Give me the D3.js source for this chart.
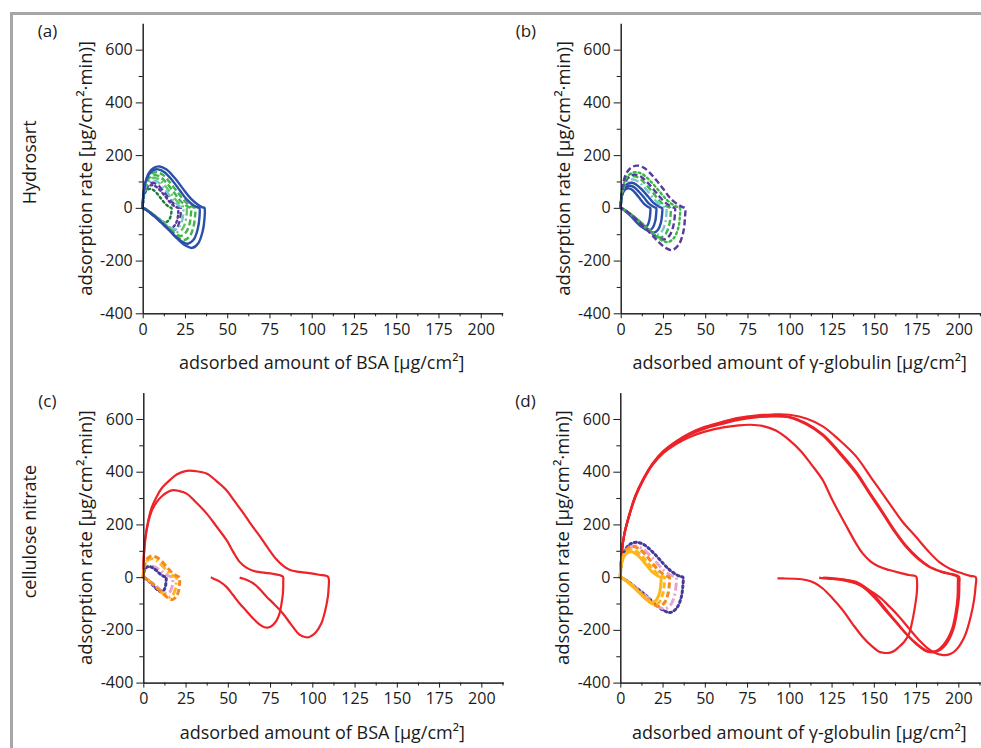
<!DOCTYPE html>
<html>
<head>
<meta charset="utf-8">
<script src="https://cdn.jsdelivr.net/npm/d3@7"></script>
<style>
body { margin: 0; background: #fff; }
text { font-family: "Open Sans", sans-serif; fill: #1a1a1a; }
</style>
</head>
<body>
<script>
// axis ticks
var xMajor = [0, 25, 50, 75, 100, 125, 150, 175, 200];
var xMinor = [12.5, 37.5, 62.5, 87.5, 112.5, 137.5, 162.5, 187.5, 212.5];
var yMajor = [-400, -200, 0, 200, 400, 600];
var yMinor = [-300, -100, 100, 300, 500];

// (a) Hydrosart, BSA  [adsorbed amount, adsorption rate]
var aBlue1 = [[0,0],[0.4,47],[1.5,94],[3.7,133],[6.6,152],[9.9,157],[13.9,146],[19,113],[24,71],[28.5,35],[32.9,11],[35.4,2],[36.5,0],[36.6,-38],[35.4,-91],[32.9,-134],[29.2,-152],[25.6,-144],[20.8,-119],[16,-87],[11,-55],[5.8,-26],[2.2,-8],[0,0]];
var aBlue2 = [[0,0],[0.3,44],[1.3,88],[3.4,124],[6,142],[9,146],[12.7,136],[17.4,105],[22,66],[26,32],[30,10],[32.5,2],[33.5,0],[33.6,-34],[32.5,-82],[30.2,-120],[26.8,-136],[23.5,-129],[19,-106],[14.7,-78],[10,-49],[5.4,-23],[2,-7],[0,0]];
var aGreen1 = [[0,0],[0.3,40],[1.2,81],[3.1,115],[5.6,131],[8.4,135],[11.8,126],[16,97],[20.5,61],[24.2,30],[27.9,9],[30,2],[31,0],[31,-30],[30,-73],[27.9,-107],[24.8,-122],[21.7,-116],[17.7,-95],[13.6,-70],[9.3,-44],[5,-21],[1.9,-6],[0,0]];
var aGreen2 = [[0,0],[0.3,37],[1.1,74],[2.9,105],[5.1,120],[7.7,124],[10.8,115],[14.8,89],[18.8,56],[22.2,27],[25.6,9],[27.6,2],[28.5,0],[28.5,-27],[27.6,-64],[25.6,-93],[22.8,-106],[20,-101],[16.2,-83],[12.5,-60],[8.6,-38],[4.6,-18],[1.7,-5],[0,0]];
var aGreen3 = [[0,0],[0.3,34],[1,68],[2.6,97],[4.7,111],[7,114],[9.9,106],[13.5,82],[17.2,51],[20.3,25],[23.4,8],[25.2,2],[26,0],[26,-23],[25.2,-55],[23.4,-81],[20.8,-92],[18.2,-87],[14.8,-72],[11.4,-52],[7.8,-33],[4.2,-16],[1.6,-5],[0,0]];
var aTeal = [[0,0],[0.2,31],[1,62],[2.4,88],[4.3,101],[6.5,104],[9.1,97],[12.5,75],[15.8,47],[18.7,23],[21.6,7],[23.3,2],[24,0],[24,-20],[23.3,-49],[21.6,-72],[19.2,-82],[16.8,-78],[13.7,-64],[10.6,-47],[7.2,-30],[3.8,-14],[1.4,-4],[0,0]];
var aPurple1 = [[0,0],[0.2,29],[0.9,57],[2.3,81],[4,92],[6.1,95],[8.6,88],[11.7,68],[14.9,43],[17.6,21],[20.3,7],[21.8,1],[22.5,0],[22.5,-21],[21.8,-52],[20.3,-76],[18,-86],[15.8,-82],[12.8,-67],[9.9,-49],[6.8,-31],[3.6,-15],[1.4,-4],[0,0]];
var aPurple2 = [[0,0],[0.2,26],[0.8,52],[2.1,73],[3.8,83],[5.7,86],[8,80],[10.9,62],[13.9,39],[16.4,19],[18.9,6],[20.4,1],[21,0],[21,-19],[20.4,-46],[18.9,-67],[16.8,-76],[14.7,-72],[12,-59],[9.2,-43],[6.3,-27],[3.4,-13],[1.3,-4],[0,0]];
var aDkGreen = [[0,0],[0.2,22],[0.7,43],[1.7,61],[3.1,70],[4.6,72],[6.5,67],[8.8,52],[11.2,32],[13.3,16],[15.3,5],[16.5,1],[17,0],[17,-14],[16.5,-33],[15.3,-48],[13.6,-55],[11.9,-52],[9.7,-43],[7.5,-31],[5.1,-20],[2.7,-9],[1,-3],[0,0]];

// (b) Hydrosart, gamma-globulin
var bPurple1 = [[0,0],[0.4,48],[1.5,96],[3.8,136],[6.8,155],[10.3,160],[14.4,149],[19.8,115],[25.1,72],[29.6,35],[34.2,11],[36.9,2],[38,0],[38,-40],[36.9,-96],[34.2,-141],[30.4,-160],[26.6,-152],[21.7,-125],[16.7,-91],[11.4,-58],[6.1,-27],[2.3,-8],[0,0]];
var bGreen1 = [[0,0],[0.4,41],[1.4,81],[3.5,115],[6.3,131],[9.5,135],[13.3,126],[18.2,97],[23.1,61],[27.3,30],[31.5,9],[34,2],[35,0],[35,-33],[34,-78],[31.5,-114],[28,-130],[24.5,-124],[20,-101],[15.4,-74],[10.5,-47],[5.6,-22],[2.1,-7],[0,0]];
var bPurple2 = [[0,0],[0.3,38],[1.3,76],[3.2,107],[5.8,122],[8.6,126],[12.2,117],[16.6,91],[21.1,57],[25,28],[28.8,9],[31,2],[32,0],[32,-30],[31,-72],[28.8,-106],[25.6,-120],[22.4,-114],[18.2,-94],[14.1,-68],[9.6,-43],[5.1,-20],[1.9,-6],[0,0]];
var bGreen2 = [[0,0],[0.3,36],[1.2,72],[3,102],[5.3,116],[8,120],[11.2,112],[15.3,86],[19.5,54],[23,26],[26.6,8],[28.6,2],[29.5,0],[29.5,-28],[28.6,-67],[26.6,-99],[23.6,-112],[20.7,-106],[16.8,-87],[13,-64],[8.9,-40],[4.7,-19],[1.8,-6],[0,0]];
var bTeal = [[0,0],[0.3,32],[1.1,65],[2.7,92],[4.9,105],[7.3,108],[10.3,100],[14,78],[17.8,49],[21.1,24],[24.3,8],[26.2,2],[27,0],[27,-26],[26.2,-61],[24.3,-90],[21.6,-102],[18.9,-97],[15.4,-80],[11.9,-58],[8.1,-37],[4.3,-17],[1.6,-5],[0,0]];
var bBlue1 = [[0,0],[0.2,29],[1,57],[2.5,81],[4.4,92],[6.6,95],[9.3,88],[12.7,68],[16.2,43],[19.1,21],[22.1,7],[23.8,1],[24.5,0],[24.5,-24],[23.8,-56],[22.1,-83],[19.6,-94],[17.2,-89],[14,-73],[10.8,-54],[7.4,-34],[3.9,-16],[1.5,-5],[0,0]];
var bBlue2 = [[0,0],[0.2,25],[0.8,50],[2.1,71],[3.8,81],[5.7,84],[8,78],[10.9,60],[13.9,38],[16.4,18],[18.9,6],[20.4,1],[21,0],[21,-22],[20.4,-52],[18.9,-76],[16.8,-86],[14.7,-82],[12,-67],[9.2,-49],[6.3,-31],[3.4,-15],[1.3,-4],[0,0]];
var bBlue3 = [[0,0],[0.2,22],[0.7,44],[1.8,63],[3.2,72],[4.7,74],[6.7,69],[9.1,53],[11.6,33],[13.7,16],[15.8,5],[17,1],[17.5,0],[17.5,-19],[17,-46],[15.8,-67],[14,-76],[12.3,-72],[10,-59],[7.7,-43],[5.3,-27],[2.8,-13],[1.1,-4],[0,0]];

// (c) cellulose nitrate, BSA
var cRed1 = [[0,0],[0.4,91],[1.2,150],[3,217],[5,265],[7.9,305],[11,338],[15.7,368],[20,390],[25.6,403],[31,402],[37.4,393],[43,366],[49.2,330],[54,288],[59.3,242],[64,198],[69.2,153],[74,108],[78.7,68],[83,42],[86.5,28],[92,20],[98.3,15],[104,9],[109.2,2],[109.8,-10],[109.6,-45],[109.2,-75],[107.5,-130],[105.3,-176],[102,-210],[98.3,-227],[95.5,-227],[92.4,-218],[87.5,-180],[82.6,-138],[77.5,-103],[72.8,-73],[68.8,-45],[65.2,-24],[61,-10],[57,-2]];
var cRed2 = [[0,0],[0.4,88],[1.2,145],[3,210],[5,252],[7.9,285],[11,307],[14.5,323],[17.7,330],[21,327],[25.6,317],[31,285],[37.4,242],[43,195],[49.2,141],[53,98],[57,58],[61,36],[65,24],[70,18],[76.6,13],[80.5,8],[82.6,2],[82.8,-20],[82.6,-62],[81.8,-100],[80.6,-138],[78.8,-165],[76.6,-182],[74,-191],[71.7,-190],[68.5,-178],[65,-157],[61,-128],[57,-100],[53,-67],[49.2,-37],[45,-16],[41.3,-5],[40,0]];
var cOrange = [[0,0],[0.2,24],[0.9,48],[2.2,68],[3.9,78],[5.8,80],[8.2,74],[11.2,58],[14.2,36],[16.8,18],[19.4,6],[20.9,1],[21.5,0],[21.5,-21],[20.9,-51],[19.4,-75],[17.2,-85],[15.1,-81],[12.3,-66],[9.5,-48],[6.5,-31],[3.4,-14],[1.3,-4],[0,0]];
var cGold = [[0,0],[0.2,21],[0.8,42],[2,60],[3.5,68],[5.3,70],[7.4,65],[10.1,50],[12.9,32],[15.2,15],[17.6,5],[18.9,1],[19.5,0],[19.5,-19],[18.9,-46],[17.6,-67],[15.6,-76],[13.7,-72],[11.1,-59],[8.6,-43],[5.9,-27],[3.1,-13],[1.2,-4],[0,0]];
var cPink = [[0,0],[0.2,13],[0.7,25],[1.8,36],[3.2,41],[4.7,42],[6.7,39],[9.1,30],[11.6,19],[13.7,9],[15.8,3],[17,1],[17.5,0],[17.5,-16],[17,-37],[15.8,-55],[14,-62],[12.3,-59],[10,-48],[7.7,-35],[5.3,-22],[2.8,-11],[1.1,-3],[0,0]];
var cNavy = [[0,0],[0.1,12],[0.5,24],[1.4,34],[2.4,39],[3.6,40],[5.1,37],[7,29],[8.9,18],[10.5,9],[12.2,3],[13.1,1],[13.5,0],[13.5,-14],[13.1,-34],[12.2,-49],[10.8,-56],[9.5,-53],[7.7,-44],[5.9,-32],[4.1,-20],[2.2,-10],[0.8,-3],[0,0]];

// (d) cellulose nitrate, gamma-globulin
var dRedA = [[0,0],[0.8,90],[2.5,165],[5.7,242],[9,305],[13.6,368],[19,425],[25.4,470],[33,505],[41.1,532],[50,552],[60.8,568],[70,576],[77,578],[84,574],[92,556],[100,520],[107,477],[113,428],[119.8,368],[124.5,305],[129.6,242],[134.5,185],[139,133],[143.4,90],[148,60],[153,40],[159.1,27],[166,15],[171,8],[175,2],[175.6,-20],[175.4,-62],[174,-125],[172.5,-175],[170.9,-214],[168,-245],[165,-264],[162,-280],[159.1,-287],[156,-287],[153.2,-283],[148.5,-260],[143.4,-227],[137.5,-178],[131.6,-125],[125.5,-80],[119.8,-43],[115,-22],[110,-11],[103,-6],[96.2,-5],[93,-5]];
var dRedB = [[0,0],[0.8,90],[2.5,166],[5.7,243],[9,307],[13.6,370],[19,428],[25.4,474],[33,510],[41.1,540],[50,563],[60.8,582],[70,596],[80,606],[90,610],[100,606],[110,580],[119.8,538],[129.6,470],[139.5,394],[147.5,316],[155.2,242],[162,175],[169,115],[176,70],[182.7,39],[190,20],[198.5,8],[200.5,1],[200.6,-25],[200.4,-75],[199.3,-130],[197.5,-189],[195.2,-228],[192.6,-256],[189.5,-275],[186.7,-284],[183.5,-285],[180.8,-280],[175,-253],[169,-214],[164,-175],[159.1,-138],[154,-97],[149.3,-62],[144.5,-36],[139.5,-18],[134,-11],[129.6,-8],[123,-5],[117.8,-3]];
var dRedB2 = [[0,0],[0.8,92],[2.5,168],[5.7,245],[9,310],[13.6,372],[19,430],[25.4,477],[33,514],[41.1,544],[50,567],[60.8,586],[70,600],[80,609],[90,613],[100,608],[110,584],[119.8,542],[129.6,476],[139.5,400],[147.5,322],[155.2,248],[162,180],[169,120],[176,74],[182.7,41],[190,21],[197,8],[199.5,1],[199.7,-25],[199.5,-78],[198.4,-135],[196.6,-190],[194,-230],[191,-258],[188,-276],[185,-282],[182,-280],[178.5,-268],[173,-240],[167,-200],[161.5,-160],[156,-120],[151,-82],[146,-50],[141,-27],[136,-14],[130,-7],[125,-4],[120,-2]];
var dRedC = [[0,0],[0.8,92],[2.5,168],[5.7,245],[9,310],[13.6,372],[19,430],[25.4,477],[33,515],[41.1,546],[50,570],[60.8,590],[70,604],[80,613],[90,617],[100,616],[110,602],[119.8,572],[129.6,520],[139.5,458],[149,372],[159.1,281],[167,210],[174.9,153],[182,100],[188.6,58],[195,32],[202.4,14],[207,5],[210.3,0],[210.2,-35],[209.3,-87],[207.3,-150],[204.4,-214],[201.5,-252],[198.5,-277],[195.5,-291],[192.6,-296],[189.5,-294],[186.7,-289],[181.5,-268],[176.8,-239],[171,-196],[165,-150],[159,-110],[153.2,-75],[146,-45],[139.5,-24],[133,-13],[127.7,-8],[122,-5],[117.8,-3]];
var dNavy = [[0,0],[0.4,40],[1.5,79],[3.7,112],[6.7,128],[10,132],[14.1,123],[19.2,95],[24.4,59],[28.9,29],[33.3,9],[35.9,2],[37,0],[37,-34],[35.9,-80],[33.3,-118],[29.6,-134],[25.9,-127],[21.1,-105],[16.3,-76],[11.1,-48],[5.9,-23],[2.2,-7],[0,0]];
var dPink = [[0,0],[0.3,35],[1.3,71],[3.3,100],[5.9,114],[8.9,118],[12.5,110],[17.2,85],[21.8,53],[25.7,26],[29.7,8],[32,2],[33,0],[33,-30],[32,-72],[29.7,-106],[26.4,-120],[23.1,-114],[18.8,-94],[14.5,-68],[9.9,-43],[5.3,-20],[2,-6],[0,0]];
var dOrange = [[0,0],[0.3,35],[1.2,70],[2.9,99],[5.2,113],[7.8,116],[11,108],[15.1,84],[19.1,52],[22.6,26],[26.1,8],[28.1,2],[29,0],[29,-28],[28.1,-66],[26.1,-97],[23.2,-110],[20.3,-105],[16.5,-86],[12.8,-63],[8.7,-40],[4.6,-19],[1.7,-6],[0,0]];
var dGold1 = [[0,0],[0.3,31],[1,62],[2.6,88],[4.7,101],[7,104],[9.9,97],[13.5,75],[17.2,47],[20.3,23],[23.4,7],[25.2,2],[26,0],[26,-26],[25.2,-62],[23.4,-92],[20.8,-104],[18.2,-99],[14.8,-81],[11.4,-59],[7.8,-37],[4.2,-18],[1.6,-5],[0,0]];
var dGold2 = [[0,0],[0.2,29],[1,58],[2.4,82],[4.3,93],[6.5,96],[9.1,89],[12.5,69],[15.8,43],[18.7,21],[21.6,7],[23.3,1],[24,0],[24,-24],[23.3,-58],[21.6,-84],[19.2,-96],[16.8,-91],[13.7,-75],[10.6,-55],[7.2,-35],[3.8,-16],[1.4,-5],[0,0]];

// line styles
var BLUE = "#2a50aa", GREEN = "#3db54a", LGREEN = "#6cc46a", TEAL = "#74c9cc",
    PURPLE = "#553c9c", DKGREEN = "#1c7a3c", RED = "#ec2328", ORANGE = "#f5891f",
    GOLD = "#ffb61a", PINK = "#e9a3cf", NAVY = "#46389c";
var SOLID = null, DASH = "6,3", DOT = "2,3", DASHDOT = "8,3,2,3";

var panels = [
  { id: "(a)", left: 142.7, top: 23.3, xTitle: "adsorbed amount of BSA [µg/cm²]", row: "Hydrosart", lw: 2.4,
    series: [
      [aDkGreen, DKGREEN, DOT], [aPurple2, PURPLE, DOT], [aPurple1, PURPLE, DASH], [aTeal, TEAL, DASHDOT],
      [aGreen3, LGREEN, DASHDOT], [aGreen2, GREEN, DASH], [aGreen1, GREEN, DASH],
      [aBlue2, BLUE, SOLID], [aBlue1, BLUE, SOLID]] },
  { id: "(b)", left: 620.7, top: 23.3, xTitle: "adsorbed amount of γ-globulin [µg/cm²]", lw: 2.4,
    series: [
      [bBlue3, BLUE, SOLID], [bBlue2, BLUE, SOLID], [bBlue1, BLUE, SOLID], [bTeal, TEAL, DASHDOT],
      [bGreen2, GREEN, DASH], [bPurple2, PURPLE, DASH], [bGreen1, GREEN, DOT], [bPurple1, PURPLE, DASH]] },
  { id: "(c)", left: 143.3, top: 392.6, xTitle: "adsorbed amount of BSA [µg/cm²]", row: "cellulose nitrate", lw: 3,
    series: [
      [cRed1, RED, SOLID], [cRed2, RED, SOLID], [cPink, PINK, DASHDOT], [cNavy, NAVY, DOT],
      [cGold, GOLD, DASHDOT], [cOrange, ORANGE, DASH]] },
  { id: "(d)", left: 620.3, top: 392.6, xTitle: "adsorbed amount of γ-globulin [µg/cm²]", lw: 3,
    series: [
      [dRedA, RED, SOLID], [dRedB, RED, SOLID], [dRedB2, RED, SOLID], [dRedC, RED, SOLID],
      [dNavy, NAVY, DOT], [dPink, PINK, DASHDOT], [dOrange, ORANGE, DASH], [dGold1, GOLD, DASH], [dGold2, GOLD, SOLID]] }
];

const width = 981;
const height = 748;
const pw = 360, ph = 290;

var svg = d3.select("body")
  .append("svg")
  .attr("width", width)
  .attr("height", height);

// grey frame
svg.append("path")
  .attr("d", "M11.5,748 V13.5 H981")
  .attr("fill", "none")
  .attr("stroke", "#a6a6a6")
  .attr("stroke-width", 3);

// plain hyphen for negative tick labels, like the original
var fmt = function(d) { return String(d); };

panels.forEach(function(p) {
    var x = d3.scaleLinear().domain([0, 213]).range([p.left, p.left + pw]);
    var y = d3.scaleLinear().domain([-400, 700]).range([p.top + ph, p.top]);
    var g = svg.append("g");

    var line = d3.line()
      .x(function(d) { return x(d[0]); })
      .y(function(d) { return y(d[1]); })
      .curve(d3.curveCatmullRom.alpha(0.5));

    // curves
    p.series.forEach(function(s) {
        g.append("path")
          .attr("d", line(s[0]))
          .attr("fill", "none")
          .attr("stroke", s[1])
          .attr("stroke-width", s[1] === RED ? 2.2 : p.lw)
          .attr("stroke-linecap", s[2] === DOT ? "round" : "butt")
          .attr("stroke-dasharray", s[2]);
    });

    // minor ticks
    g.append("g")
      .attr("transform", "translate(0," + y(-400) + ")")
      .call(d3.axisBottom(x).tickValues(xMinor).tickSize(3).tickSizeOuter(0).tickFormat(""));
    g.append("g")
      .attr("transform", "translate(" + x(0) + ",0)")
      .call(d3.axisLeft(y).tickValues(yMinor).tickSize(4).tickSizeOuter(0).tickFormat(""));

    // major ticks
    g.append("g")
      .attr("transform", "translate(0," + y(-400) + ")")
      .call(d3.axisBottom(x).tickValues(xMajor).tickSize(5).tickSizeOuter(0).tickPadding(5).tickFormat(fmt));
    g.append("g")
      .attr("transform", "translate(" + x(0) + ",0)")
      .call(d3.axisLeft(y).tickValues(yMajor).tickSize(7).tickSizeOuter(0).tickPadding(3).tickFormat(fmt));

    g.selectAll(".domain, .tick line").attr("stroke", "#1a1a1a");
    g.selectAll(".tick text")
      .attr("font-family", "Open Sans, sans-serif")
      .attr("font-size", 16)
      .attr("fill", "#1a1a1a");

    // axis titles
    g.append("text")
      .attr("x", p.left + 179)
      .attr("y", p.top + ph + 56)
      .attr("text-anchor", "middle")
      .attr("font-size", 18)
      .text(p.xTitle);

    g.append("text")
      .attr("transform", "translate(" + (p.left - 51) + "," + (p.top + 145) + ") rotate(-90)")
      .attr("text-anchor", "middle")
      .attr("font-size", 18.5)
      .text("adsorption rate [µg/cm²·min)]");

    // panel letter
    g.append("text")
      .attr("x", p.left - 105)
      .attr("y", p.top + 14)
      .attr("font-size", 17)
      .text(p.id);

    // row label
    if (p.row) {
        g.append("text")
          .attr("transform", "translate(36," + (p.top + 139) + ") rotate(-90)")
          .attr("text-anchor", "middle")
          .attr("font-size", 18)
          .text(p.row);
    }
});
</script>
</body>
</html>
